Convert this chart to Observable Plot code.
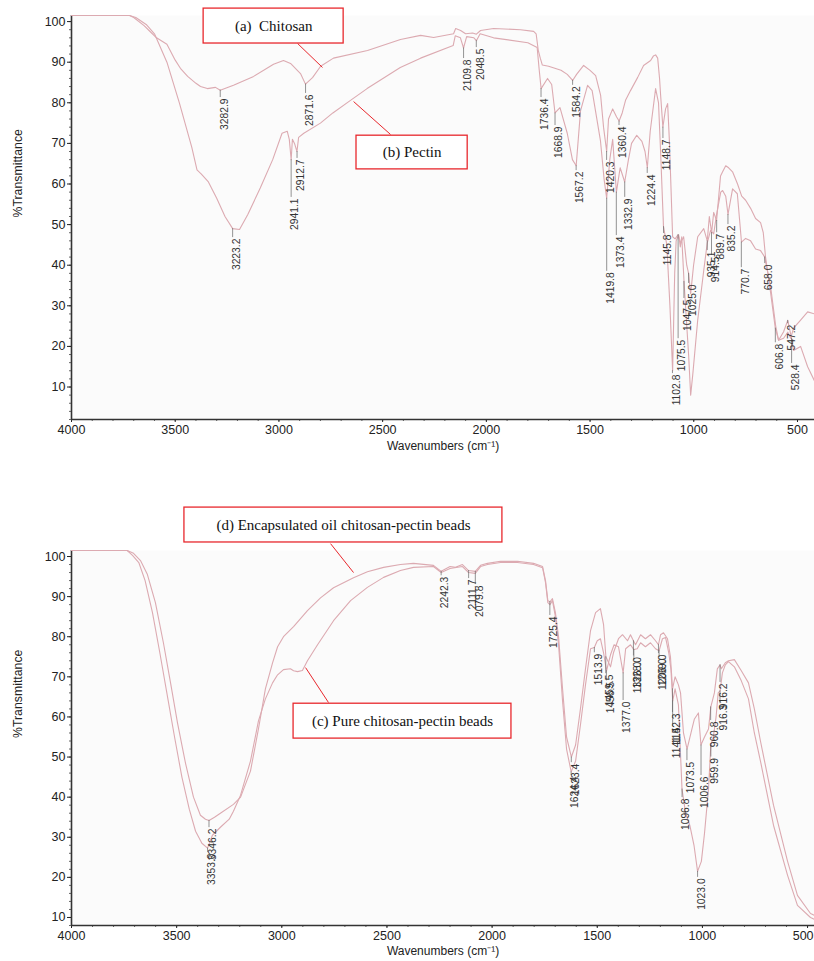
<!DOCTYPE html>
<html><head><meta charset="utf-8">
<script src="https://cdn.jsdelivr.net/npm/d3@7"></script>
<script src="https://cdn.jsdelivr.net/npm/@observablehq/plot@0.6"></script>
<style>
body{margin:0;background:#fff;}
#chart{width:814px;}
#chart svg{display:block;}
</style></head><body><div id="chart"></div>
<script>
// ---------- DATA ----------
const xTicks = [4000, 3500, 3000, 2500, 2000, 1500, 1000, 500];
const yTicks = [10, 20, 30, 40, 50, 60, 70, 80, 90, 100];

// Panel 1: (a) Chitosan  [wavenumber, %T]
const chitosan = [[4000,101.5],[3720,101.5],[3700,101],[3650,99],[3620,97.5],[3590,96],[3540,94.4],[3500,90.5],[3475,88.5],[3440,86.5],[3400,84.8],[3378,84],[3345,83.5],[3306,83.8],[3283,83.1],[3219,84.3],[3122,86.5],[3026,89.5],[2978,90.4],[2944,89.7],[2896,87.2],[2872,84.6],[2838,86.2],[2799,89],[2737,91],[2573,92.9],[2414,95.6],[2317,96.6],[2254,96.1],[2158,97],[2148,98.3],[2124,97.8],[2100,97],[2066,97.2],[2048,96.9],[2028,97.8],[1965,98.3],[1835,98],[1772,97.6],[1760,97],[1750,93],[1740,91],[1730,89.3],[1700,89],[1670,88.5],[1640,88],[1610,87],[1584,85.5],[1565,87],[1531,89.2],[1500,88],[1473,86.7],[1449,81.8],[1435,74],[1420,68],[1411,76],[1391,78.5],[1372,76.5],[1360,75.5],[1345,77.5],[1329,80.6],[1305,83],[1271,86.2],[1242,89.2],[1208,90.4],[1195,91.5],[1184,91.8],[1174,91],[1165,86],[1160,82],[1149,74],[1136,78.5],[1126,79.8],[1117,70],[1102,47],[1090,46.5],[1076,47.5],[1063,45.5],[1049,47],[1034,40],[1025,38],[1015,33],[1001,40],[981,47],[952,49],[935,46],[925,52],[914,48],[904,53],[890,51],[871,62],[861,63],[846,64.5],[832,64],[813,63],[789,60],[769,57],[750,56],[726,54],[702,51.5],[678,50.5],[665,48],[654,42],[629,33],[607,24.5],[591,21.5],[567,22],[547,23.5],[533,22],[519,24.5],[485,26.5],[451,28.5],[418,28]];

// Panel 1: (b) Pectin
const pectin = [[4000,101.5],[3720,101.5],[3690,101],[3640,99.3],[3600,97],[3540,90],[3480,80],[3420,69],[3395,63.5],[3375,62.5],[3340,60.5],[3300,56.5],[3260,52],[3223,49],[3190,48.8],[3150,52.5],[3090,59],[3030,66],[2985,72.5],[2960,73],[2950,71],[2941,66],[2935,71],[2925,70],[2913,68],[2905,71.5],[2880,72.5],[2800,75],[2740,77.5],[2655,80.6],[2575,83.5],[2415,88.7],[2317,91],[2160,94.1],[2150,96.5],[2125,96],[2110,93.5],[2095,96.3],[2060,96],[2048,95.3],[2030,97],[1965,96],[1800,94.8],[1755,93.6],[1745,88],[1736,83.5],[1705,86],[1685,84.5],[1669,77.5],[1645,78.8],[1610,72.5],[1585,66],[1567,64.5],[1546,78],[1512,84.3],[1490,83],[1450,70.7],[1432,61],[1420,56.5],[1405,66],[1391,71],[1373,58],[1355,64],[1333,60.5],[1315,66],[1300,70],[1275,72],[1250,70.5],[1235,68],[1224,64],[1210,73],[1184,83.5],[1170,80],[1160,68],[1146,49.5],[1130,45],[1115,30],[1102,14],[1092,38],[1085,46],[1073,47.5],[1065,44.5],[1058,47],[1047,36],[1035,26],[1025,18],[1015,8],[1005,13],[981,26.5],[952,38.7],[935,45.5],[919,48.6],[904,47.7],[890,52.5],[870,58],[861,58.4],[846,57],[835,52.5],[813,58.8],[790,57.6],[770,45.7],[750,46.6],[726,46],[702,44],[678,43.6],[658,42],[629,34.5],[605,25],[591,21.5],[567,23.6],[547,26.4],[533,23],[519,19],[485,20],[451,15],[418,11.5]];

// Panel 2: (d) Encapsulated oil chitosan-pectin beads
const encapsulated = [[4000,101.5],[3735,101.5],[3705,100.8],[3672,99],[3639,95.5],[3601,88.5],[3563,78.5],[3529,68.5],[3496,58.5],[3458,48.5],[3420,40],[3387,35.5],[3363,34.5],[3346,34.2],[3320,35],[3292,36],[3230,38.2],[3196,40],[3149,46.5],[3111,57],[3078,67],[3044,73.5],[3020,77.5],[2992,80],[2944,82.5],[2878,86.5],[2816,89.7],[2754,92.2],[2659,94.7],[2593,96.2],[2516,97.3],[2436,98],[2374,98.3],[2279,97.8],[2242,96.3],[2200,97.5],[2174,97.3],[2141,98],[2112,96.5],[2080,96.3],[2055,97.8],[2022,98.3],[1960,98.8],[1879,98.8],[1803,98.3],[1760,97.5],[1746,94],[1735,89],[1725,88.7],[1713,89.5],[1699,86],[1684,80],[1665,67],[1646,55],[1623,50],[1603,53],[1580,62],[1556,72],[1532,81.5],[1508,86],[1485,87],[1470,83],[1459,75],[1437,72.5],[1423,76],[1399,79.5],[1380,80.5],[1356,79],[1342,80.5],[1328,79],[1318,78],[1294,80.5],[1271,79.5],[1247,80.5],[1223,79],[1209,78],[1199,80.5],[1185,81],[1166,79.5],[1152,75],[1142,67],[1130,70],[1114,68],[1104,66],[1090,56],[1073,52],[1052,56.5],[1038,59.5],[1019,61],[1007,53],[990,55],[971,57],[960,62.5],[943,66],[929,72],[916,73],[910,72],[891,73.5],[876,74],[848,74.3],[815,71.5],[781,68.5],[753,62],[724,54],[662,38],[595,24],[548,15.5],[486,11],[467,10.5]];

// Panel 2: (c) Pure chitosan-pectin beads
const pure = [[4000,101.5],[3735,101.5],[3710,100.3],[3680,98.5],[3650,94],[3615,86],[3580,76],[3545,65.5],[3510,55],[3475,45],[3440,37],[3410,31.5],[3380,28.5],[3353,27.3],[3330,30.5],[3292,32.5],[3250,34.5],[3230,36.5],[3196,40.5],[3149,49],[3111,59],[3078,64.5],[3044,68.5],[3020,70.5],[2992,71.8],[2959,72],[2944,71.5],[2925,71.3],[2902,71.6],[2878,74],[2830,78],[2754,84],[2673,89],[2593,92.3],[2516,94.8],[2436,96.5],[2374,97.3],[2279,97.5],[2242,96],[2200,97],[2141,97.5],[2112,96],[2080,95.8],[2055,97.5],[2022,98],[1960,98.5],[1879,98.5],[1803,98],[1760,97.2],[1746,93.5],[1735,88.5],[1725,88],[1713,89],[1699,85],[1684,78],[1665,64],[1646,52],[1624,46.3],[1603,49],[1580,58],[1556,68],[1532,77],[1514,77.3],[1500,79],[1485,79.5],[1470,76],[1456,71.5],[1437,75.5],[1420,78],[1399,77.5],[1377,71],[1365,77],[1342,78],[1326,76.8],[1310,77],[1294,78.5],[1271,77.5],[1247,78.5],[1223,77],[1206,76.5],[1190,79.5],[1175,79.8],[1160,76],[1150,72],[1141,64],[1130,67],[1114,63],[1097,42],[1080,36],[1060,33],[1040,28],[1023,21.5],[1005,24],[990,31],[971,42],[960,53],[948,55],[935,60],[925,66],[916,66.5],[905,71],[891,73],[876,73.8],[848,72.5],[815,69],[781,64.5],[753,56],[724,49],[662,33],[595,20.5],[548,13],[486,10],[467,9.5]];

// Peak labels: text, wavenumber, %T at the peak, %T where the label starts
const peaksTop = [
  {t:"3282.9",w:3282.9,v:83.1,vt:81.3},{t:"3223.2",w:3223.2,v:49,vt:46.8},
  {t:"2941.1",w:2941.1,v:66,vt:56.7},{t:"2912.7",w:2912.7,v:68,vt:66.3},
  {t:"2871.6",w:2871.6,v:84.6,vt:82.3},{t:"2109.8",w:2109.8,v:93.5,vt:90.9},
  {t:"2048.5",w:2048.5,v:95.3,vt:93.6},{t:"1736.4",w:1736.4,v:83.5,vt:81.3},
  {t:"1668.9",w:1668.9,v:77.5,vt:74.4},{t:"1584.2",w:1584.2,v:85.5,vt:84.3},
  {t:"1567.2",w:1567.2,v:64.5,vt:63.3},{t:"1420.3",w:1420.3,v:68,vt:65.8},
  {t:"1419.8",w:1419.8,v:56.5,vt:38.5},{t:"1373.4",w:1373.4,v:58,vt:47.3},
  {t:"1360.4",w:1360.4,v:75.5,vt:74.4},{t:"1332.9",w:1332.9,v:60.5,vt:56.7},
  {t:"1224.4",w:1224.4,v:64,vt:62.6},{t:"1148.7",w:1148.7,v:74,vt:71.2},
  {t:"1145.8",w:1145.8,v:49.5,vt:47.8},{t:"1102.8",w:1102.8,v:14,vt:13.3},
  {t:"1075.5",w:1075.5,v:47.5,vt:21.9},{t:"1047.5",w:1047.5,v:36,vt:31.8},
  {t:"1025.0",w:1025.0,v:38,vt:35.5},{t:"935.1",w:935.1,v:46,vt:43.6},
  {t:"914.5",w:914.5,v:48,vt:42.4},{t:"889.7",w:889.7,v:51,vt:48},
  {t:"835.2",w:835.2,v:52.5,vt:50},{t:"770.7",w:770.7,v:45.7,vt:39.4},
  {t:"658.0",w:658.0,v:42,vt:40.4},{t:"606.8",w:606.8,v:24.5,vt:20.9},
  {t:"547.2",w:547.2,v:26.4,vt:25.6},{t:"528.4",w:528.4,v:22,vt:15.8}
];
const peaksBottom = [
  {t:"3353.0",w:3353.0,v:27.3,vt:26.2},{t:"3346.2",w:3346.2,v:34.2,vt:32.4},
  {t:"2242.3",w:2242.3,v:96.3,vt:95.2},{t:"2111.7",w:2111.7,v:96.5,vt:94.5},
  {t:"2079.8",w:2079.8,v:96.3,vt:93},{t:"1725.4",w:1725.4,v:88.7,vt:85.3},
  {t:"1624.4",w:1624.4,v:46.3,vt:45.4},{t:"1623.4",w:1623.4,v:50,vt:48.6},
  {t:"1513.9",w:1513.9,v:77.3,vt:76},{t:"1459.5",w:1459.5,v:75,vt:70.8},
  {t:"1456.5",w:1456.5,v:71.5,vt:69},{t:"1377.0",w:1377.0,v:71,vt:64.1},
  {t:"1328.0",w:1328.0,v:79,vt:75.2},{t:"1326.0",w:1326.0,v:76.8,vt:74},
  {t:"1209.0",w:1209.0,v:78,vt:75.8},{t:"1206.0",w:1206.0,v:76.5,vt:74.8},
  {t:"1142.3",w:1142.3,v:67,vt:61.1},{t:"1141.5",w:1141.5,v:64,vt:57.6},
  {t:"1096.8",w:1096.8,v:42,vt:39.9},{t:"1073.5",w:1073.5,v:52,vt:49.1},
  {t:"1023.0",w:1023.0,v:21.5,vt:20},{t:"1006.6",w:1006.6,v:53,vt:45.4},
  {t:"960.8",w:960.8,v:62.5,vt:59.1},{t:"959.9",w:959.9,v:53,vt:50},
  {t:"916.2",w:916.2,v:73,vt:68.6},{t:"916.3",w:916.3,v:66.5,vt:63.3}
];

// Annotation boxes and leader lines (in data units)
const boxesTop = [
  {label:"(a)  Chitosan", w1:3363, w2:2688, v1:103.2, v2:94.6},
  {label:"(b) Pectin", w1:2626, w2:2090, v1:71.9, v2:63.6}
];
const leadersTop = [
  {w1:2910, v1:94.6, w2:2790, v2:88.7},
  {w1:2640, v1:80.3, w2:2462, v2:72.2}
];
const boxesBottom = [
  {label:"(d) Encapsulated oil chitosan-pectin beads", w1:3463, w2:1951, v1:112.2, v2:103.5},
  {label:"(c) Pure chitosan-pectin beads", w1:2944, w2:1908, v1:63.3, v2:54.6}
];
const leadersBottom = [
  {w1:2768, v1:103.2, w2:2659, v2:96.0},
  {w1:2887, v1:72.3, w2:2778, v2:63.6}
];

// ---------- DRAW ----------
const CURVE = "#dcaab1";
const RED = "#e8282d";

function panel({series, peaks, boxes, leaders, xDomain, yDomain, height, marginTop, marginBottom, xLabelDy}) {
  const minorY = d3.range(Math.ceil(yDomain[0] / 2) * 2, 101, 2);
  // tick labels that would cross the right edge are right-aligned instead
  const edgeTicks = xTicks.filter(t => t < xDomain[1] + 40);
  const innerTicks = xTicks.filter(t => !edgeTicks.includes(t));
  return Plot.plot({
    width: 814, height, marginLeft: 71, marginRight: 0, marginTop, marginBottom,
    style: {background: "white", fontFamily: "'Liberation Sans', Arial, sans-serif", fontSize: "12px", color: "#222"},
    x: {domain: xDomain},
    y: {domain: yDomain},
    marks: [
      Plot.frame({fill: "#fbfbfb", stroke: null}),
      Plot.axisX({ticks: d3.range(500, 4001, 100), tickSize: 2, tickFormat: () => "", label: null, stroke: "#666"}),
      Plot.axisY({ticks: minorY, tickSize: 2, tickFormat: () => "", label: null, stroke: "#666"}),
      Plot.axisX({ticks: innerTicks, tickSize: 3, tickPadding: 3, label: null, fontSize: 12.5, tickFormat: d => String(d)}),
      Plot.axisX({ticks: edgeTicks, tickSize: 3, tickFormat: () => "", label: null}),
      Plot.text(edgeTicks, {x: d => d, text: d => String(d), frameAnchor: "bottom", lineAnchor: "top", textAnchor: "end", dy: 6, dx: 6, fontSize: 12.5, fill: "#222"}),
      Plot.axisY({ticks: yTicks, tickSize: 4, tickPadding: 2, label: null, fontSize: 12.5}),
      Plot.ruleX([4000], {stroke: "#333", strokeWidth: 1.6}),
      Plot.ruleY([yDomain[0]], {stroke: "#333", strokeWidth: 1.6}),
      ...series.map(s => Plot.line(s, {x: d => d[0], y: d => d[1], stroke: CURVE, strokeWidth: 1.1})),
      Plot.ruleX(peaks, {x: "w", y1: "v", y2: "vt", stroke: "#666", strokeWidth: 0.7}),
      Plot.text(peaks, {x: "w", y: "vt", text: "t", rotate: -90, textAnchor: "end", dx: 4, dy: 1, fontSize: 10.3, fill: "#333"}),
      Plot.link(leaders, {x1: "w1", y1: "v1", x2: "w2", y2: "v2", stroke: RED, strokeWidth: 1}),
      Plot.rect(boxes, {x1: "w1", x2: "w2", y1: "v1", y2: "v2", fill: "white", stroke: RED, strokeWidth: 1.3}),
      Plot.text(boxes, {x: d => (d.w1 + d.w2) / 2, y: d => (d.v1 + d.v2) / 2, text: "label", fontFamily: "'Liberation Serif', 'Times New Roman', serif", fontSize: 15, fill: "#111"}),
      Plot.text(["%Transmittance"], {text: d => d, frameAnchor: "left", rotate: -90, dx: -53, fontSize: 12.3, fill: "#222"}),
      Plot.text(["Wavenumbers (cm\u207B\u00B9)"], {text: d => d, frameAnchor: "bottom", lineAnchor: "top", dy: xLabelDy, fontSize: 12, fill: "#222"})
    ]
  });
}

const root = document.getElementById("chart");
root.append(panel({
  series: [chitosan, pectin], peaks: peaksTop, boxes: boxesTop, leaders: leadersTop,
  xDomain: [4000, 418], yDomain: [2, 101.5], height: 470, marginTop: 15, marginBottom: 51, xLabelDy: 22
}));
root.append(panel({
  series: [encapsulated, pure], peaks: peaksBottom, boxes: boxesBottom, leaders: leadersBottom,
  xDomain: [4000, 467], yDomain: [8, 101.5], height: 491, marginTop: 80, marginBottom: 36, xLabelDy: 21
}));
</script></body></html>
